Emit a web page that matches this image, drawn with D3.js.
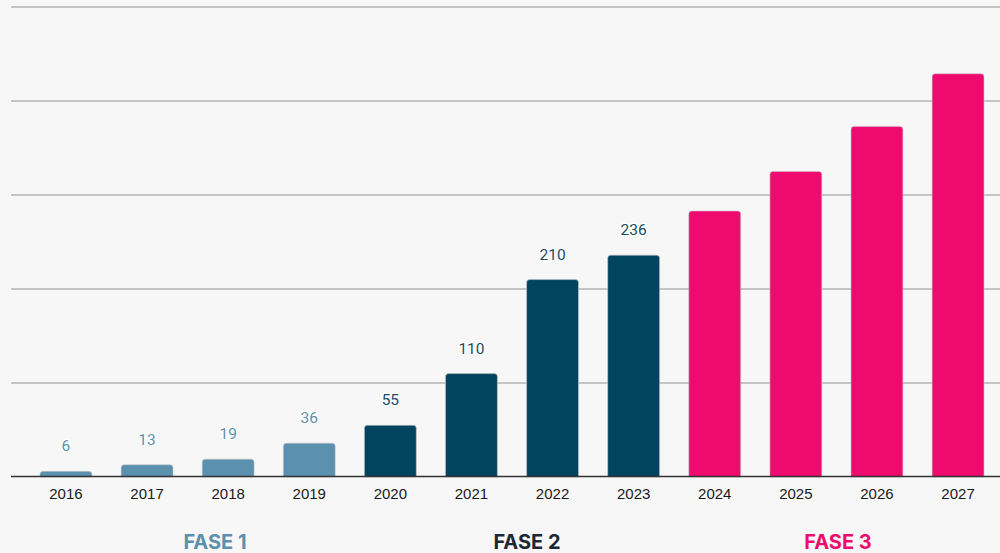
<!DOCTYPE html>
<html>
<head>
<meta charset="utf-8">
<script src="https://cdn.jsdelivr.net/npm/d3@7"></script>
<style>
  html, body { margin: 0; padding: 0; background: #f7f7f7; }
  svg { display: block; }
</style>
</head>
<body>
<div class="container"></div>
<script>
// data
const years = ["2016","2017","2018","2019","2020","2021","2022","2023","2024","2025","2026","2027"]
const values = [6, 13, 19, 36, 55, 110, 210, 236, 283, 325, 373, 429]
const phases = [1, 1, 1, 1, 2, 2, 2, 2, 3, 3, 3, 3]
const showLabel = [true, true, true, true, true, true, true, true, false, false, false, false]
const gridTicks = [0, 100, 200, 300, 400, 500]
const phaseNames = ["FASE 1", "FASE 2", "FASE 3"]

const barColor = { 1: "#5b90ae", 2: "#00445f", 3: "#ef0a6f" }
const labelColor = { 1: "#5b90ae", 2: "#1b4a63" }
const phaseColor = ["#5b90ae", "#1d2833", "#ef0a6f"]
const phaseX = [215, 527, 838]

let width = 1000
let height = 553

let svg = d3.select(".container")
  .append("svg")
  .attr("width", width)
  .attr("height", height)

svg.append("rect")
  .attr("width", width)
  .attr("height", height)
  .attr("fill", "#f7f7f7")

let x = d3.scaleBand()
  .domain(years)
  .range([25.4, 998.6])
  .paddingInner(0.36)
  .paddingOuter(0.18)

let y = d3.scaleLinear()
  .domain([0, 500])
  .range([477, 7])

// gridlines
svg.selectAll(".grid")
  .data(gridTicks.slice(1))
  .enter()
  .append("line")
  .attr("class", "grid")
  .attr("x1", 11)
  .attr("x2", width)
  .attr("y1", function (d) { return y(d); })
  .attr("y2", function (d) { return y(d); })
  .attr("stroke", "#b4b4b4")
  .attr("stroke-width", 1.6)

// bars with rounded top corners
function barPath(d, i) {
  let x0 = x(years[i]), w = x.bandwidth()
  let top = y(d), bottom = y(0), r = 3
  return `M${x0},${bottom} L${x0},${top + r} Q${x0},${top} ${x0 + r},${top} ` +
    `L${x0 + w - r},${top} Q${x0 + w},${top} ${x0 + w},${top + r} L${x0 + w},${bottom} Z`
}

svg.selectAll(".bar")
  .data(values)
  .enter()
  .append("path")
  .attr("class", "bar")
  .attr("d", barPath)
  .attr("fill", function (d, i) { return barColor[phases[i]]; })
  .attr("stroke", "#c8c8c8")
  .attr("stroke-width", 0.6)

// baseline
svg.append("line")
  .attr("x1", 11)
  .attr("x2", width)
  .attr("y1", y(0) - 0.5)
  .attr("y2", y(0) - 0.5)
  .attr("stroke", "#333")
  .attr("stroke-width", 1.5)

// value labels
svg.selectAll(".valueText")
  .data(values.filter(function (d, i) { return showLabel[i]; }))
  .enter()
  .append("text")
  .attr("class", "valueText")
  .attr("x", function (d, i) { return x(years[i]) + x.bandwidth() / 2; })
  .attr("y", function (d) { return y(d) - 20; })
  .attr("text-anchor", "middle")
  .attr("font-family", "Roboto, sans-serif")
  .attr("font-size", "15.5px")
  .attr("fill", function (d, i) { return labelColor[phases[i]]; })
  .attr("stroke", "#ffffff")
  .attr("stroke-width", 2.5)
  .attr("stroke-linejoin", "round")
  .attr("paint-order", "stroke")
  .text(function (d) { return d; })

// year labels
svg.selectAll(".yearText")
  .data(years)
  .enter()
  .append("text")
  .attr("class", "yearText")
  .attr("x", function (d) { return x(d) + x.bandwidth() / 2; })
  .attr("y", 499)
  .attr("text-anchor", "middle")
  .attr("font-family", "'Liberation Sans', Arial, sans-serif")
  .attr("font-size", "15px")
  .attr("fill", "#1a1a1a")
  .text(function (d) { return d; })

// phase labels
svg.selectAll(".phaseText")
  .data(phaseNames)
  .enter()
  .append("text")
  .attr("class", "phaseText")
  .attr("x", function (d, i) { return phaseX[i]; })
  .attr("y", 549)
  .attr("text-anchor", "middle")
  .attr("font-family", "Inter, sans-serif")
  .attr("font-weight", "bold")
  .attr("font-size", "20px")
  .attr("fill", function (d, i) { return phaseColor[i]; })
  .text(function (d) { return d; })
</script>
</body>
</html>
